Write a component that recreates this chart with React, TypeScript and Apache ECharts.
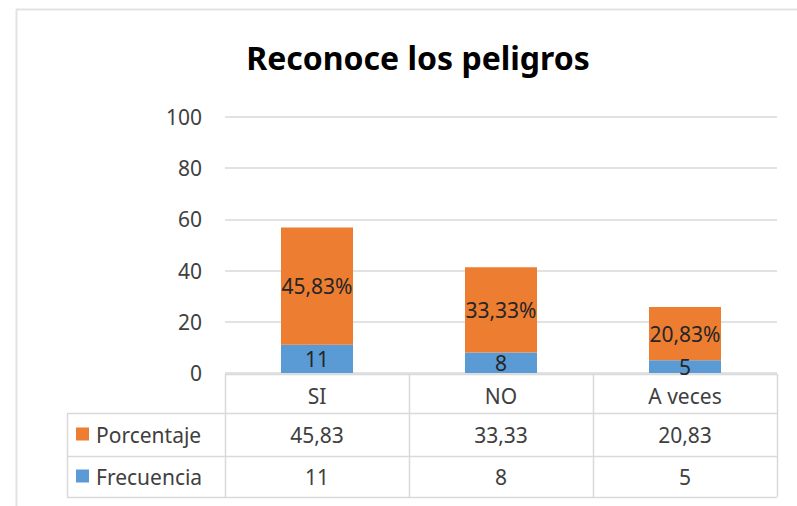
import React, { useEffect, useRef } from "react";
import * as echarts from "echarts";

const categories = ["SI", "NO", "A veces"];
const porcentaje = [45.83, 33.33, 20.83];
const frecuencia = [11, 8, 5];
const seriesNames = ["Porcentaje", "Frecuencia"];
const title = "Reconoce los peligros";

const W = 797;
const H = 506;
const GRID_L = 225;
const GRID_R = 777;
const GRID_T = 117;
const GRID_B = 373;
const TABLE_L = 67;
const ROW_Y = [374, 413, 456, 497];

const ORANGE = "#ED7D31";
const BLUE = "#5B9BD5";
const LINE = "#D9D9D9";
const TXT = "#404040";
const FONT = "'Noto Sans', 'Open Sans', sans-serif";
const FS = 21;

const fmt = (v: number) => v.toFixed(2).replace(".", ",");

export default function App() {
  const ref = useRef<HTMLDivElement>(null);
  useEffect(() => {
    if (!ref.current) return;
    const chart = echarts.init(ref.current, undefined, { renderer: "svg" });
    const colW = (GRID_R - GRID_L) / categories.length;
    const graphics: any[] = [];
    // outer border
    graphics.push({ type: "line", shape: { x1: 16, y1: 9.5, x2: W, y2: 9.5 }, style: { stroke: "#E3E3E3", lineWidth: 2 } });
    graphics.push({ type: "line", shape: { x1: 16.5, y1: 9, x2: 16.5, y2: H }, style: { stroke: "#E3E3E3", lineWidth: 2 } });
    // table horizontal lines
    graphics.push({ type: "line", shape: { x1: GRID_L, y1: ROW_Y[0] + 0.5, x2: GRID_R, y2: ROW_Y[0] + 0.5 }, style: { stroke: LINE, lineWidth: 1.5 } });
    for (let r = 1; r < ROW_Y.length; r++) {
      graphics.push({ type: "line", shape: { x1: TABLE_L, y1: ROW_Y[r] + 0.5, x2: GRID_R, y2: ROW_Y[r] + 0.5 }, style: { stroke: LINE, lineWidth: 1.5 } });
    }
    // vertical lines
    graphics.push({ type: "line", shape: { x1: TABLE_L + 0.5, y1: ROW_Y[1], x2: TABLE_L + 0.5, y2: ROW_Y[3] }, style: { stroke: LINE, lineWidth: 1.5 } });
    for (let i = 0; i <= categories.length; i++) {
      const x = Math.round(GRID_L + colW * i) + 0.5;
      graphics.push({ type: "line", shape: { x1: x, y1: ROW_Y[0], x2: x, y2: ROW_Y[3] }, style: { stroke: LINE, lineWidth: 1.5 } });
    }
    // legend keys + names
    const rows = [
      { name: seriesNames[0], color: ORANGE, vals: porcentaje.map(fmt) },
      { name: seriesNames[1], color: BLUE, vals: frecuencia.map((v) => String(v)) },
    ];
    rows.forEach((row, r) => {
      const cy = (ROW_Y[r + 1] + ROW_Y[r + 2]) / 2;
      graphics.push({ type: "rect", shape: { x: 76, y: cy - 7, width: 13, height: 13 }, style: { fill: row.color } });
      graphics.push({ type: "text", x: 96, y: cy, style: { text: row.name, fill: TXT, font: `${FS}px ${FONT}`, textAlign: "left", textVerticalAlign: "middle" } });
      row.vals.forEach((v, i) => {
        graphics.push({ type: "text", x: GRID_L + colW * (i + 0.5), y: cy, style: { text: v, fill: TXT, font: `${FS}px ${FONT}`, textAlign: "center", textVerticalAlign: "middle" } });
      });
    });

    chart.setOption({
      animation: false,
      title: {
        text: title,
        left: 413,
        top: 36,
        textAlign: "center",
        textStyle: { fontFamily: FONT, fontWeight: "bold", fontSize: 32, color: "#000" },
      },
      grid: { left: GRID_L, right: W - GRID_R, top: GRID_T, bottom: H - GRID_B, containLabel: false },
      xAxis: {
        type: "category",
        data: categories,
        axisLine: { show: false },
        axisTick: { show: false },
        axisLabel: { fontFamily: FONT, fontSize: FS, color: TXT, margin: 12 },
      },
      yAxis: {
        type: "value",
        min: 0,
        max: 100,
        interval: 20,
        axisLine: { show: false },
        axisTick: { show: false },
        axisLabel: { fontFamily: FONT, fontSize: FS, color: TXT, margin: 23 },
        splitLine: { lineStyle: { color: LINE, width: 1.5 } },
      },
      series: [
        {
          name: seriesNames[1],
          type: "bar",
          stack: "total",
          data: frecuencia,
          barWidth: 72,
          itemStyle: { color: BLUE },
          label: { show: true, position: "inside", color: "#262626", fontFamily: FONT, fontSize: FS, formatter: (p: any) => String(p.value) },
        },
        {
          name: seriesNames[0],
          type: "bar",
          stack: "total",
          data: porcentaje,
          barWidth: 72,
          itemStyle: { color: ORANGE },
          label: { show: true, position: "inside", color: "#262626", fontFamily: FONT, fontSize: FS, formatter: (p: any) => fmt(p.value) + "%" },
        },
      ],
      graphic: graphics,
    });
    return () => chart.dispose();
  }, []);
  return <div ref={ref} style={{ position: "fixed", left: 0, top: 0, width: W, height: H, background: "#fff" }} />;
}
